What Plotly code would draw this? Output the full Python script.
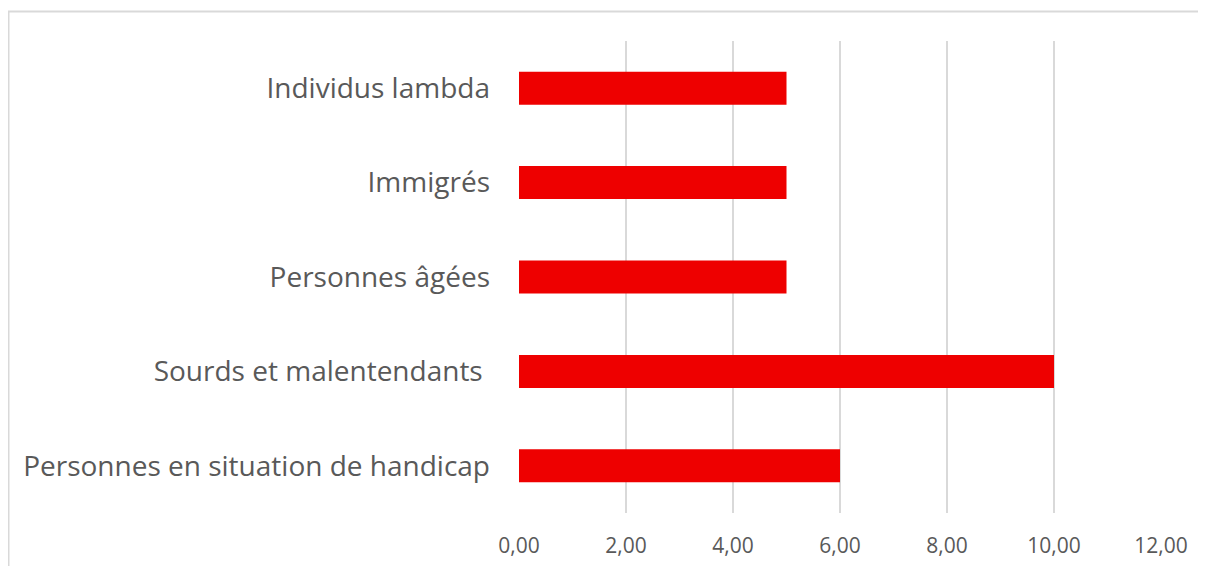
import plotly.graph_objects as go

categories = ["Personnes en situation de handicap", "Sourds et malentendants ",
              "Personnes âgées", "Immigrés", "Individus lambda"]
values = [6, 10, 5, 5, 5]
x_ticks = [0, 2, 4, 6, 8, 10, 12]

# the page puts the figure 8px in from the top-left corner
W, H = 1198, 558
L, T = 511, 33
pw, ph = 642, 472
R, B = W - L - pw, H - T - ph

fig = go.Figure(go.Bar(
    x=values, y=categories, orientation="h",
    marker=dict(color="#EE0000", line=dict(width=0)),
    width=0.35,
))

fig.update_layout(
    width=W, height=H,
    margin=dict(l=L, r=R, t=T, b=B),
    paper_bgcolor="white", plot_bgcolor="white",
    separators=",.",
    showlegend=False,
    font=dict(family="Open Sans", color="#595959"),
    xaxis=dict(range=[0, 12], tickvals=x_ticks, tickformat=".2f",
               showgrid=True, gridcolor="#D9D9D9", gridwidth=2,
               zeroline=False, showline=False, ticks="",
               tickfont=dict(size=21, color="#595959"),
               ticklabelstandoff=18, automargin=False),
    yaxis=dict(range=[-0.5, 4.5], showgrid=False, zeroline=False,
               showline=False, ticks="",
               tickfont=dict(size=28, color="#595959"),
               ticklabelstandoff=28, automargin=False),
    # outer chart frame (only left and top edges visible in the picture)
    shapes=[dict(type="rect", xref="paper", yref="paper",
                 x0=(0.5 - L) / pw, x1=(W + 20 - L) / pw,
                 y0=-(B + 20) / ph, y1=1 + (T - 3.5) / ph,
                 line=dict(color="#D9D9D9", width=2), layer="below")],
)

fig.write_html("out.html")
